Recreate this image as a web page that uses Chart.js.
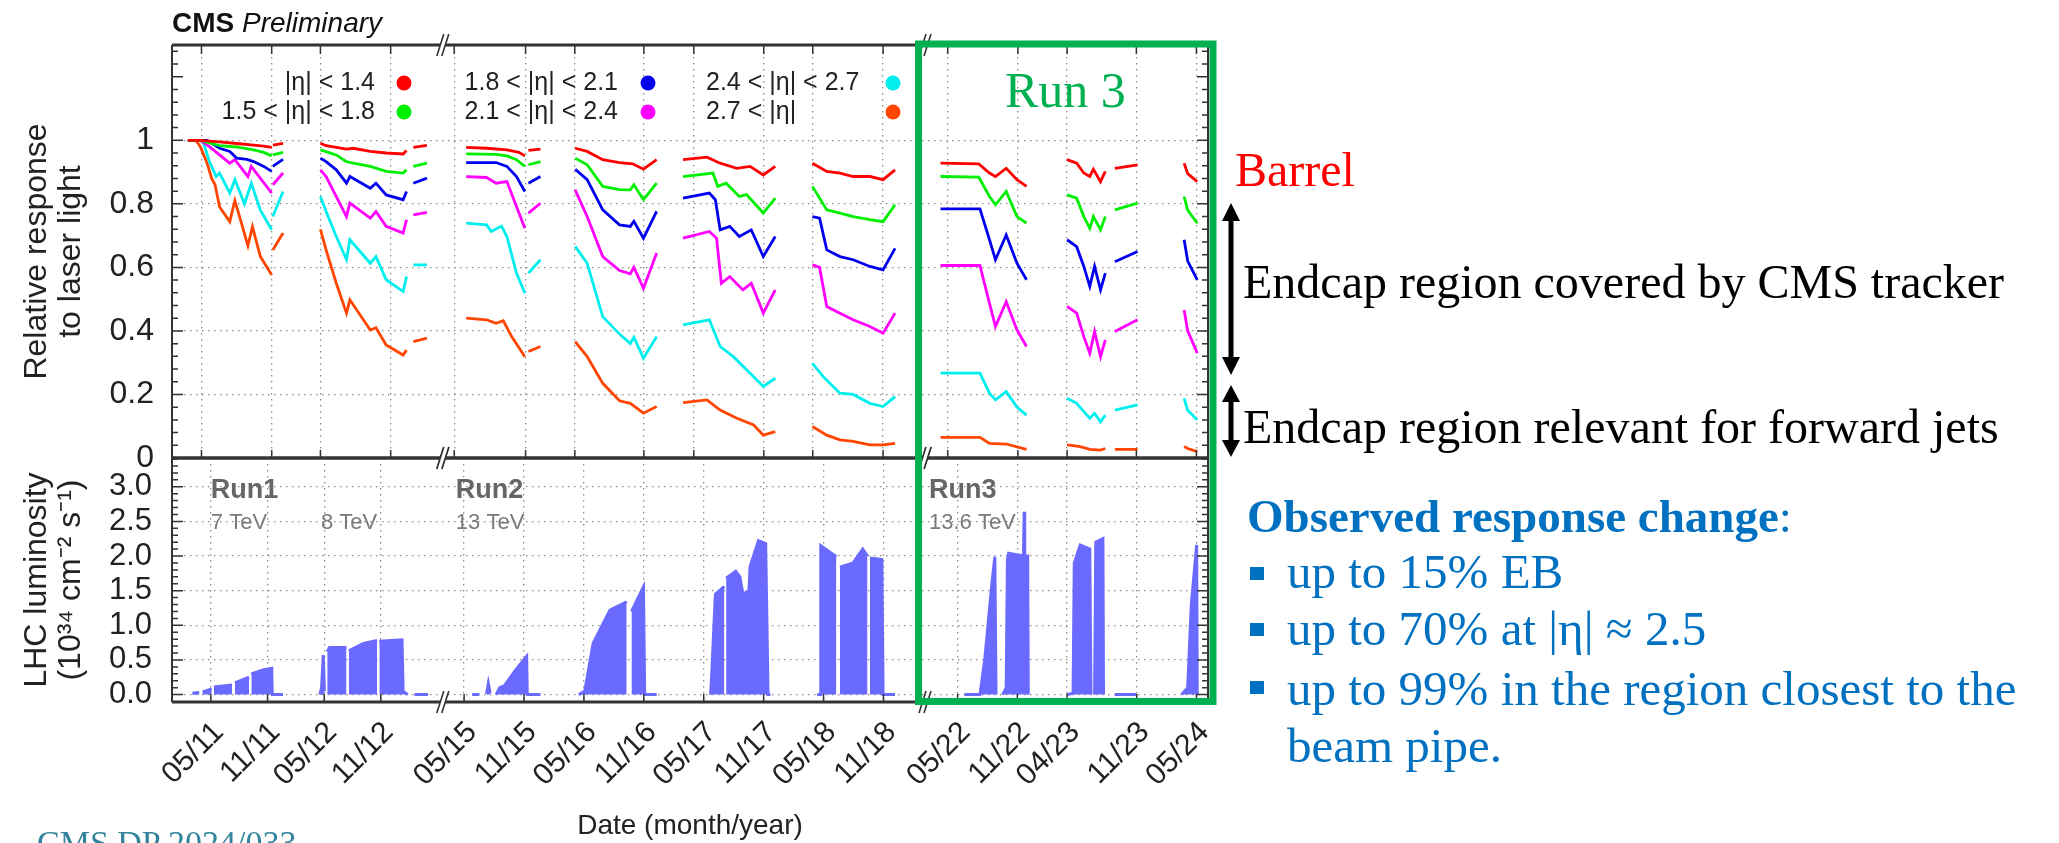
<!DOCTYPE html>
<html>
<head>
<meta charset="utf-8">
<title>ECAL response to laser light</title>
<script src="https://cdn.jsdelivr.net/npm/chart.js@4.4.1/dist/chart.umd.min.js"></script>
<style>
  html, body { margin: 0; padding: 0; background: #fff; }
  body { width: 2059px; height: 843px; position: relative; overflow: hidden; }
  canvas { position: absolute; left: 0; }
  #respChart { top: 0; }
  #lumiChart { top: 440px; }
  #notes { position: absolute; left: 0; top: 0; pointer-events: none; }
</style>
</head>
<body>
<canvas id="respChart" width="1240" height="480"></canvas>
<canvas id="lumiChart" width="1240" height="403"></canvas>

<svg id="notes" width="2059" height="843" xmlns="http://www.w3.org/2000/svg">
  <text x="172" y="32" font-family="'Liberation Sans', Arial, sans-serif" font-size="28" fill="#111"><tspan font-weight="bold">CMS</tspan> <tspan font-style="italic">Preliminary</tspan></text>
  <rect x="918.5" y="44" width="294.5" height="657.5" fill="none" stroke="#00b050" stroke-width="7"/>
  <g font-family="'Liberation Serif', 'Times New Roman', serif">
    <text x="1005" y="107" font-size="50" fill="#00b050">Run 3</text>
    <text x="1235" y="186" font-size="48" fill="#ff0000">Barrel</text>
    <text x="1243" y="298" font-size="48" fill="#000">Endcap region covered by CMS tracker</text>
    <text x="1243" y="443" font-size="48" fill="#000">Endcap region relevant for forward jets</text>
    <text x="1247" y="532" font-size="47" font-weight="bold" fill="#0070c0">Observed response change<tspan font-weight="normal">:</tspan></text>
    <text x="1287" y="588" font-size="49" fill="#0070c0">up to 15% EB</text>
    <text x="1287" y="645" font-size="49" fill="#0070c0">up to 70% at |η| ≈ 2.5</text>
    <text x="1287" y="705" font-size="49" fill="#0070c0">up to 99% in the region closest to the</text>
    <text x="1287" y="762" font-size="49" fill="#0070c0">beam pipe.</text>
    <text x="37" y="854" font-size="34" fill="#31849b">CMS DP 2024/033</text>
  </g>
  <g fill="#0070c0">
    <rect x="1250" y="567" width="14" height="13"/>
    <rect x="1250" y="623" width="14" height="13"/>
    <rect x="1250" y="681" width="14" height="13"/>
  </g>
  <g fill="#000" stroke="#000">
    <line x1="1231" y1="215" x2="1231" y2="363" stroke-width="5"/>
    <polygon points="1231,203 1222,221 1240,221" stroke="none"/>
    <polygon points="1231,375 1222,357 1240,357" stroke="none"/>
    <line x1="1231" y1="397" x2="1231" y2="445" stroke-width="5"/>
    <polygon points="1231,385 1222,402 1240,402" stroke="none"/>
    <polygon points="1231,457 1222,440 1240,440" stroke="none"/>
  </g>
</svg>

<script>
// ===== data: relative response to laser light, per |eta| ring =====
const etaLabels = ['|η| < 1.4', '1.5 < |η| < 1.8', '1.8 < |η| < 2.1', '2.1 < |η| < 2.4', '2.4 < |η| < 2.7', '2.7 < |η|'];
const etaColors = ['#ff0000', '#00ee00', '#0000ee', '#ff00ff', '#00eeee', '#ff4500'];

// [decimal year, response], null = gap in data taking
const respEta14 = [
  [2011.13,1.0],[2011.24,1.0],[2011.41,0.995],[2011.56,0.99],[2011.71,0.985],[2011.80,0.982],[2011.87,0.978],null,
  [2011.88,0.985],[2011.97,0.99],null,
  [2012.30,0.991],[2012.35,0.983],[2012.53,0.972],[2012.59,0.975],[2012.74,0.965],[2012.88,0.96],[2013.03,0.957],[2013.06,0.968],null,
  [2013.12,0.978],[2013.24,0.984],null,
  [2015.35,0.978],[2015.52,0.975],[2015.69,0.97],[2015.79,0.962],[2015.84,0.951],null,
  [2015.87,0.968],[2015.97,0.972],null,
  [2016.26,0.975],[2016.36,0.965],[2016.49,0.939],[2016.63,0.93],[2016.74,0.926],[2016.83,0.909],[2016.94,0.939],null,
  [2017.16,0.939],[2017.36,0.947],[2017.47,0.928],[2017.61,0.912],[2017.72,0.918],[2017.83,0.891],[2017.93,0.918],null,
  [2018.24,0.928],[2018.36,0.902],[2018.47,0.897],[2018.58,0.886],[2018.72,0.886],[2018.83,0.876],[2018.93,0.907],null,
  [2022.19,0.928],[2022.51,0.926],[2022.60,0.897],[2022.65,0.886],[2022.74,0.912],[2022.83,0.876],[2022.91,0.855],null,
  [2023.25,0.939],[2023.33,0.928],[2023.39,0.897],[2023.44,0.886],[2023.47,0.909],[2023.53,0.87],[2023.57,0.902],null,
  [2023.65,0.912],[2023.84,0.923],null,
  [2024.23,0.928],[2024.26,0.895],[2024.34,0.87]
];
const respEta18 = [
  [2011.13,1.0],[2011.24,1.0],[2011.41,0.983],[2011.56,0.979],[2011.71,0.97],[2011.80,0.962],[2011.87,0.951],null,
  [2011.88,0.954],[2011.97,0.962],null,
  [2012.30,0.97],[2012.44,0.954],[2012.53,0.933],[2012.59,0.928],[2012.74,0.918],[2012.88,0.902],[2013.03,0.897],[2013.06,0.907],null,
  [2013.12,0.918],[2013.24,0.928],null,
  [2015.35,0.957],[2015.60,0.956],[2015.69,0.951],[2015.77,0.939],[2015.84,0.918],null,
  [2015.87,0.923],[2015.97,0.933],null,
  [2016.26,0.944],[2016.36,0.923],[2016.49,0.855],[2016.63,0.845],[2016.72,0.844],[2016.75,0.86],[2016.83,0.813],[2016.94,0.865],null,
  [2017.16,0.886],[2017.41,0.897],[2017.45,0.855],[2017.52,0.865],[2017.63,0.823],[2017.69,0.829],[2017.83,0.771],[2017.93,0.818],null,
  [2018.24,0.855],[2018.36,0.781],[2018.47,0.771],[2018.58,0.76],[2018.72,0.75],[2018.83,0.744],[2018.93,0.797],null,
  [2022.19,0.886],[2022.51,0.884],[2022.60,0.823],[2022.65,0.797],[2022.74,0.839],[2022.83,0.76],[2022.91,0.739],null,
  [2023.25,0.828],[2023.33,0.818],[2023.39,0.76],[2023.44,0.723],[2023.47,0.76],[2023.53,0.718],[2023.57,0.76],null,
  [2023.65,0.781],[2023.84,0.802],null,
  [2024.23,0.823],[2024.26,0.78],[2024.34,0.739]
];
const respEta21 = [
  [2011.13,1.0],[2011.30,1.0],[2011.41,0.975],[2011.50,0.965],[2011.56,0.944],[2011.65,0.94],[2011.71,0.933],[2011.80,0.918],[2011.87,0.902],null,
  [2011.88,0.918],[2011.97,0.94],null,
  [2012.30,0.944],[2012.35,0.933],[2012.44,0.907],[2012.53,0.865],[2012.56,0.886],[2012.74,0.849],[2012.79,0.865],[2012.88,0.828],[2013.03,0.813],[2013.06,0.839],null,
  [2013.12,0.865],[2013.24,0.881],null,
  [2015.35,0.93],[2015.60,0.93],[2015.69,0.918],[2015.77,0.886],[2015.84,0.839],null,
  [2015.87,0.865],[2015.97,0.886],null,
  [2016.26,0.909],[2016.36,0.876],[2016.49,0.781],[2016.63,0.734],[2016.72,0.729],[2016.75,0.745],[2016.83,0.692],[2016.94,0.776],null,
  [2017.16,0.818],[2017.38,0.834],[2017.43,0.813],[2017.47,0.718],[2017.55,0.729],[2017.63,0.697],[2017.73,0.718],[2017.83,0.634],[2017.93,0.697],null,
  [2018.24,0.76],[2018.30,0.755],[2018.36,0.655],[2018.47,0.634],[2018.58,0.624],[2018.72,0.603],[2018.83,0.592],[2018.93,0.66],null,
  [2022.19,0.784],[2022.52,0.784],[2022.60,0.687],[2022.65,0.624],[2022.74,0.702],[2022.83,0.613],[2022.91,0.561],null,
  [2023.25,0.687],[2023.33,0.665],[2023.39,0.603],[2023.44,0.54],[2023.48,0.603],[2023.53,0.529],[2023.57,0.582],null,
  [2023.65,0.618],[2023.84,0.65],null,
  [2024.23,0.687],[2024.26,0.62],[2024.34,0.561]
];
const respEta24 = [
  [2011.13,1.0],[2011.24,1.0],[2011.32,0.98],[2011.50,0.928],[2011.545,0.939],[2011.66,0.886],[2011.69,0.918],[2011.87,0.834],null,
  [2011.88,0.86],[2011.97,0.897],null,
  [2012.30,0.907],[2012.35,0.886],[2012.44,0.823],[2012.53,0.76],[2012.56,0.802],[2012.74,0.755],[2012.79,0.776],[2012.88,0.729],[2013.03,0.708],[2013.06,0.75],null,
  [2013.12,0.765],[2013.24,0.773],null,
  [2015.35,0.886],[2015.52,0.883],[2015.60,0.865],[2015.69,0.87],[2015.77,0.792],[2015.84,0.723],null,
  [2015.87,0.771],[2015.97,0.802],null,
  [2016.26,0.844],[2016.36,0.76],[2016.49,0.634],[2016.63,0.59],[2016.72,0.58],[2016.75,0.60],[2016.83,0.534],[2016.94,0.645],null,
  [2017.16,0.692],[2017.38,0.713],[2017.44,0.692],[2017.48,0.55],[2017.55,0.571],[2017.66,0.529],[2017.73,0.55],[2017.83,0.456],[2017.93,0.529],null,
  [2018.24,0.608],[2018.30,0.60],[2018.36,0.477],[2018.47,0.456],[2018.58,0.435],[2018.72,0.414],[2018.83,0.393],[2018.93,0.456],null,
  [2022.19,0.606],[2022.52,0.606],[2022.60,0.487],[2022.65,0.414],[2022.74,0.492],[2022.83,0.403],[2022.91,0.351],null,
  [2023.25,0.477],[2023.33,0.456],[2023.39,0.382],[2023.44,0.33],[2023.48,0.398],[2023.53,0.319],[2023.57,0.372],null,
  [2023.65,0.398],[2023.84,0.435],null,
  [2024.23,0.466],[2024.26,0.40],[2024.34,0.33]
];
const respEta27 = [
  [2011.13,1.0],[2011.24,1.0],[2011.27,0.99],[2011.32,0.933],[2011.38,0.886],[2011.41,0.897],[2011.50,0.834],[2011.545,0.876],[2011.63,0.80],[2011.69,0.865],[2011.77,0.78],[2011.87,0.718],null,
  [2011.88,0.76],[2011.97,0.839],null,
  [2012.30,0.823],[2012.35,0.776],[2012.44,0.697],[2012.53,0.624],[2012.56,0.687],[2012.74,0.613],[2012.79,0.634],[2012.88,0.561],[2013.03,0.524],[2013.06,0.571],null,
  [2013.12,0.608],[2013.24,0.608],null,
  [2015.35,0.739],[2015.52,0.734],[2015.56,0.713],[2015.645,0.73],[2015.69,0.697],[2015.77,0.582],[2015.84,0.519],null,
  [2015.87,0.582],[2015.97,0.624],null,
  [2016.26,0.666],[2016.36,0.613],[2016.49,0.445],[2016.63,0.39],[2016.72,0.36],[2016.75,0.38],[2016.83,0.314],[2016.94,0.382],null,
  [2017.16,0.419],[2017.38,0.435],[2017.47,0.351],[2017.58,0.319],[2017.72,0.267],[2017.83,0.225],[2017.93,0.251],null,
  [2018.24,0.298],[2018.33,0.256],[2018.47,0.204],[2018.58,0.20],[2018.72,0.172],[2018.83,0.162],[2018.93,0.193],null,
  [2022.19,0.267],[2022.52,0.267],[2022.60,0.204],[2022.65,0.183],[2022.74,0.209],[2022.83,0.16],[2022.91,0.135],null,
  [2023.25,0.188],[2023.33,0.172],[2023.39,0.146],[2023.44,0.125],[2023.48,0.14],[2023.53,0.114],[2023.57,0.135],null,
  [2023.65,0.151],[2023.84,0.167],null,
  [2024.23,0.188],[2024.26,0.15],[2024.34,0.12]
];
const respEtaFwd = [
  [2011.13,1.0],[2011.20,1.0],[2011.24,0.98],[2011.30,0.928],[2011.34,0.88],[2011.37,0.86],[2011.41,0.79],[2011.50,0.744],[2011.545,0.81],[2011.62,0.718],[2011.66,0.668],[2011.70,0.728],[2011.77,0.634],[2011.87,0.576],null,
  [2011.88,0.655],[2011.97,0.708],null,
  [2012.30,0.72],[2012.35,0.655],[2012.44,0.55],[2012.53,0.456],[2012.56,0.498],[2012.74,0.403],[2012.79,0.41],[2012.88,0.356],[2013.03,0.324],[2013.06,0.34],null,
  [2013.12,0.366],[2013.24,0.377],null,
  [2015.35,0.44],[2015.52,0.435],[2015.60,0.424],[2015.66,0.432],[2015.73,0.382],[2015.84,0.319],null,
  [2015.87,0.335],[2015.97,0.351],null,
  [2016.26,0.366],[2016.36,0.319],[2016.49,0.235],[2016.63,0.18],[2016.72,0.172],[2016.83,0.141],[2016.94,0.162],null,
  [2017.16,0.174],[2017.36,0.183],[2017.47,0.151],[2017.61,0.125],[2017.75,0.104],[2017.83,0.072],[2017.93,0.083],null,
  [2018.24,0.099],[2018.36,0.072],[2018.47,0.057],[2018.58,0.052],[2018.72,0.041],[2018.83,0.041],[2018.93,0.046],null,
  [2022.19,0.065],[2022.52,0.065],[2022.60,0.046],[2022.74,0.044],[2022.91,0.027],null,
  [2023.25,0.041],[2023.36,0.036],[2023.44,0.027],[2023.53,0.025],[2023.57,0.03],null,
  [2023.65,0.027],[2023.84,0.027],null,
  [2024.23,0.036],[2024.26,0.03],[2024.34,0.02]
];

// LHC instantaneous luminosity envelope, 10^34 cm^-2 s^-1
const lhcLumi = [
  [2011.17,0.02],[2011.23,0.03],null,
  [2011.26,0.04],[2011.34,0.08],null,
  [2011.36,0.11],[2011.52,0.14],null,
  [2011.545,0.17],[2011.67,0.25],null,
  [2011.69,0.30],[2011.80,0.36],[2011.87,0.38],[2011.875,0.0],[2011.97,0.0],null,
  [2012.295,0.0],[2012.31,0.1],[2012.325,0.57],[2012.335,0.05],null,
  [2012.36,0.62],[2012.38,0.68],[2012.53,0.68],null,
  [2012.55,0.63],[2012.68,0.74],[2012.80,0.78],null,
  [2012.82,0.77],[2013.02,0.79],[2013.03,0.05],[2013.07,0.0],null,
  [2013.13,0.0],[2013.25,0.0],null,
  [2015.40,0.0],[2015.46,0.0],null,
  [2015.52,0.01],[2015.535,0.16],[2015.55,0.02],null,
  [2015.60,0.0],[2015.63,0.1],[2015.67,0.13],[2015.76,0.35],[2015.855,0.55],[2015.86,0.0],[2015.97,0.0],null,
  [2016.29,0.0],[2016.34,0.05],[2016.41,0.74],[2016.55,1.22],[2016.69,1.34],null,
  [2016.73,1.2],[2016.83,1.556],[2016.84,0.0],[2016.94,0.0],null,
  [2017.39,0.0],[2017.40,0.3],[2017.43,1.45],[2017.505,1.56],null,
  [2017.52,1.68],[2017.60,1.78],[2017.635,1.7],[2017.66,1.45],[2017.71,1.5],[2017.72,1.85],[2017.79,2.22],[2017.85,2.18],[2017.87,0.0],[2017.89,0.0],null,
  [2018.28,0.0],[2018.305,0.0],[2018.31,2.15],[2018.44,1.99],null,
  [2018.47,1.84],[2018.58,1.9],[2018.66,2.1],[2018.70,2.0],null,
  [2018.72,1.97],[2018.82,1.95],[2018.83,0.0],[2018.93,0.0],null,
  [2022.39,0.0],[2022.52,0.0],[2022.56,0.5],[2022.62,1.6],[2022.645,1.99],[2022.655,0.0],null,
  [2022.71,0.0],[2022.74,0.1],[2022.75,1.95],[2022.76,2.04],[2022.885,2.0],[2022.89,2.64],[2022.895,2.0],[2022.92,2.0],[2022.925,0.0],null,
  [2023.25,0.0],[2023.30,0.02],[2023.31,1.9],[2023.36,2.16],[2023.44,2.1],[2023.45,0.0],null,
  [2023.48,0.0],[2023.49,2.2],[2023.55,2.25],[2023.555,0.0],null,
  [2023.65,0.0],[2023.83,0.0],null,
  [2024.21,0.0],[2024.26,0.1],[2024.29,1.3],[2024.335,2.16],[2024.34,0.0]
];

// axis ticks
const tickDates = [2011.333, 2011.833, 2012.333, 2012.833, 2015.333, 2015.833, 2016.333, 2016.833, 2017.333, 2017.833, 2018.333, 2018.833, 2022.333, 2022.833, 2023.25, 2023.833, 2024.333];
const tickLabels = ['05/11', '11/11', '05/12', '11/12', '05/15', '11/15', '05/16', '11/16', '05/17', '11/17', '05/18', '11/18', '05/22', '11/22', '04/23', '11/23', '05/24'];
const respGridDates = [2011.25, 2011.87, 2012.30, 2012.92, 2015.25, 2015.846, 2016.257, 2016.833, 2017.25, 2017.834, 2018.243, 2018.83, 2022.25, 2022.838, 2023.25, 2023.83, 2024.333];
const respTicks = [0, 0.2, 0.4, 0.6, 0.8, 1];
const lumiTicks = [0, 0.5, 1, 1.5, 2, 2.5, 3];

// ===== broken time axis: shutdown years are cut out =====
const periods = [
  { from: 2010.99, to: 2013.38, perYear: 113.3 },
  { from: 2015.155, to: 2019.18, perYear: 119.8 },
  { from: 2022.06, to: 2024.43, perYear: 119.4 }
];
const breaks = [];
let xMax = 0;
periods.forEach((p, i) => {
  xMax += (p.to - p.from) * p.perYear;
  if (i < periods.length - 1) breaks.push(xMax);
});

function toU(t) {
  let base = 0;
  for (const p of periods) {
    if (t <= p.to) return base + (Math.max(t, p.from) - p.from) * p.perYear;
    base += (p.to - p.from) * p.perYear;
  }
  return base;
}

function toPoints(list) {
  let lastX = 0;
  return list.map(p => p ? { x: (lastX = toU(p[0])), y: p[1] } : { x: lastX, y: null });
}

// ===== plugins =====
// frame with inward ticks and "//" marks at the axis breaks
const framePlugin = {
  id: 'frame',
  afterDraw(chart, args, opts) {
    const { ctx, chartArea: a } = chart;
    const xs = chart.scales.x, ys = chart.scales.y;
    ctx.save();
    ctx.strokeStyle = '#333';
    ctx.lineWidth = 1.5;
    ctx.beginPath();
    xs.ticks.forEach(tk => {
      const px = xs.getPixelForValue(tk.value);
      if (opts.topTicks) { ctx.moveTo(px, a.top); ctx.lineTo(px, a.top + 9); }
      ctx.moveTo(px, a.bottom); ctx.lineTo(px, a.bottom - 8);
    });
    for (let i = 0; ; i++) {
      const v = i * opts.minorStep;
      if (v > ys.max) break;
      const len = i % opts.majorEvery === 0 ? 11 : 6;
      const py = ys.getPixelForValue(v);
      ctx.moveTo(a.left, py); ctx.lineTo(a.left + len, py);
      ctx.moveTo(a.right, py); ctx.lineTo(a.right - len, py);
    }
    ctx.stroke();

    ctx.lineWidth = 3;
    ctx.beginPath();
    ctx.moveTo(a.left, a.top); ctx.lineTo(a.right, a.top);
    ctx.moveTo(a.left, a.bottom); ctx.lineTo(a.right, a.bottom);
    ctx.stroke();
    ctx.lineWidth = 2;
    ctx.beginPath();
    ctx.moveTo(a.left, a.top); ctx.lineTo(a.left, a.bottom);
    ctx.moveTo(a.right, a.top); ctx.lineTo(a.right, a.bottom);
    ctx.stroke();

    breaks.forEach(u => {
      const px = xs.getPixelForValue(u);
      [a.top, a.bottom].forEach(py => {
        ctx.fillStyle = '#fff';
        ctx.beginPath();
        ctx.moveTo(px - 6, py + 11); ctx.lineTo(px + 1, py - 11);
        ctx.lineTo(px + 6, py - 11); ctx.lineTo(px - 1, py + 11);
        ctx.closePath();
        ctx.fill();
        ctx.lineWidth = 1.6;
        ctx.beginPath();
        ctx.moveTo(px - 6, py + 11); ctx.lineTo(px + 1, py - 11);
        ctx.moveTo(px - 1, py + 11); ctx.lineTo(px + 6, py - 11);
        ctx.stroke();
      });
    });
    ctx.restore();
  }
};

// key of the eta rings: label text then a coloured dot
const keyPlugin = {
  id: 'etaKey',
  afterDatasetsDraw(chart, args, opts) {
    const ctx = chart.ctx;
    ctx.save();
    ctx.font = opts.size + "px 'Liberation Sans', Arial, sans-serif";
    ctx.textBaseline = 'middle';
    chart.data.datasets.forEach((ds, i) => {
      const col = opts.cols[Math.floor(i / 2)];
      const rowY = opts.rows[i % 2];
      ctx.fillStyle = '#222';
      ctx.textAlign = col.align;
      ctx.fillText(ds.label, col.x, rowY);
      ctx.fillStyle = ds.borderColor;
      ctx.beginPath();
      ctx.arc(col.dot, rowY, opts.radius, 0, Math.PI * 2);
      ctx.fill();
    });
    ctx.restore();
  }
};

// run / energy labels in the luminosity panel
const runPlugin = {
  id: 'runNotes',
  beforeDatasetsDraw(chart, args, opts) {
    const { ctx, scales: { x, y } } = chart;
    ctx.save();
    ctx.textBaseline = 'middle';
    ctx.textAlign = 'left';
    opts.items.forEach(n => {
      ctx.font = n.bold ? "bold 27px 'Liberation Sans', Arial, sans-serif" : "22px 'Liberation Sans', Arial, sans-serif";
      ctx.fillStyle = n.bold ? '#666' : '#7a7a7a';
      ctx.fillText(n.text, x.getPixelForValue(toU(n.t)), y.getPixelForValue(n.y));
    });
    ctx.restore();
  }
};

// ===== charts =====
Chart.defaults.font.family = "'Liberation Sans', Arial, sans-serif";
Chart.defaults.color = '#222';

const grid = () => ({ color: '#8c8c8c', lineWidth: 1.3, drawTicks: false });
const dots = () => ({ display: false, dash: [1.5, 4.5] });

const respSeries = [respEta14, respEta18, respEta21, respEta24, respEta27, respEtaFwd];

new Chart(document.getElementById('respChart'), {
  type: 'line',
  data: {
    datasets: respSeries.map((s, i) => ({
      label: etaLabels[i],
      data: toPoints(s),
      borderColor: etaColors[i],
      backgroundColor: etaColors[i],
      borderWidth: 2.8,
      pointRadius: 0,
      tension: 0,
      spanGaps: false,
      fill: false
    }))
  },
  options: {
    responsive: false,
    animation: false,
    devicePixelRatio: 1,
    layout: { padding: { top: 45, right: 32, bottom: 22, left: 0 } },
    plugins: {
      legend: { display: false },
      tooltip: { enabled: false },
      frame: { topTicks: true, minorStep: 0.04, majorEvery: 5 },
      etaKey: {
        size: 25, radius: 7.5, rows: [83, 112],
        cols: [{ x: 375, dot: 404, align: 'right' }, { x: 618, dot: 648, align: 'right' }, { x: 706, dot: 893, align: 'left' }]
      }
    },
    scales: {
      x: {
        type: 'linear', min: 0, max: xMax,
        afterBuildTicks: s => { s.ticks = respGridDates.map(t => ({ value: toU(t) })); },
        afterFit: s => { s.height = 0; s.paddingLeft = 0; s.paddingRight = 0; },
        ticks: { display: false },
        grid: grid(), border: dots()
      },
      y: {
        min: 0, max: 1.3,
        afterBuildTicks: s => { s.ticks = respTicks.map(v => ({ value: v })); },
        afterFit: s => { s.width = 172; s.paddingTop = 0; s.paddingBottom = 0; },
        ticks: { padding: 18, font: { size: 32 }, callback: v => String(v) },
        grid: grid(), border: dots(),
        title: { display: true, text: ['Relative response', 'to laser light'], font: { size: 32, lineHeight: 1.07 }, padding: { top: 20, bottom: 0 } }
      }
    }
  },
  plugins: [framePlugin, keyPlugin]
});

new Chart(document.getElementById('lumiChart'), {
  type: 'line',
  data: {
    datasets: [{
      label: 'LHC luminosity',
      data: toPoints(lhcLumi),
      borderColor: '#6a6aff',
      backgroundColor: '#6a6aff',
      borderWidth: 3,
      pointRadius: 0,
      tension: 0,
      spanGaps: false,
      fill: 'origin'
    }]
  },
  options: {
    responsive: false,
    animation: false,
    devicePixelRatio: 1,
    layout: { padding: { top: 18, right: 32, bottom: 0, left: 0 } },
    plugins: {
      legend: { display: false },
      tooltip: { enabled: false },
      frame: { topTicks: false, minorStep: 0.1, majorEvery: 5 },
      runNotes: {
        items: [
          { text: 'Run1', t: 2011.333, y: 2.95, bold: true },
          { text: '7 TeV', t: 2011.333, y: 2.475 },
          { text: '8 TeV', t: 2012.304, y: 2.475 },
          { text: 'Run2', t: 2015.264, y: 2.95, bold: true },
          { text: '13 TeV', t: 2015.264, y: 2.475 },
          { text: 'Run3', t: 2022.093, y: 2.95, bold: true },
          { text: '13.6 TeV', t: 2022.093, y: 2.475 }
        ]
      }
    },
    scales: {
      x: {
        type: 'linear', min: 0, max: xMax,
        afterBuildTicks: s => { s.ticks = tickDates.map(t => ({ value: toU(t) })); },
        afterFit: s => { s.height = 141; s.paddingLeft = 0; s.paddingRight = 0; },
        ticks: { autoSkip: false, minRotation: 45, maxRotation: 45, padding: 13, labelOffset: 8, font: { size: 30 }, callback: (v, i) => tickLabels[i] },
        grid: grid(), border: dots(),
        title: { display: true, text: 'Date (month/year)', font: { size: 28 }, padding: { top: 0, bottom: 0 } }
      },
      y: {
        min: -0.107, max: 3.415,
        afterBuildTicks: s => { s.ticks = lumiTicks.map(v => ({ value: v })); },
        afterFit: s => { s.width = 172; s.paddingTop = 0; s.paddingBottom = 0; },
        ticks: { padding: 20, font: { size: 31 }, callback: v => v.toFixed(1) },
        grid: grid(), border: dots(),
        title: { display: true, text: ['LHC luminosity', '(10³⁴ cm⁻² s⁻¹)'], font: { size: 32, lineHeight: 1.07 }, padding: { top: 20, bottom: 0 } }
      }
    }
  },
  plugins: [framePlugin, runPlugin]
});
</script>
</body>
</html>
